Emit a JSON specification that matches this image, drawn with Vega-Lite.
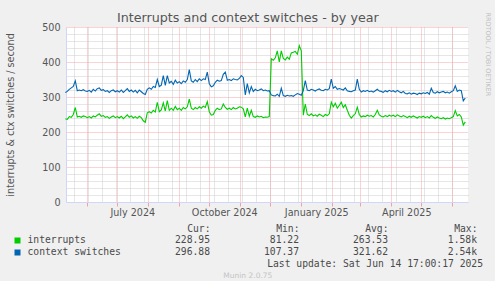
{
  "$schema": "https://vega.github.io/schema/vega-lite/v6.json",
  "background": "#F0F0F0",
  "padding": {"top": 12, "left": 5, "right": 5, "bottom": 1},
  "config": {
    "font": "DejaVu Sans",
    "view": {"stroke": null},
    "axis": {"labelColor": "#555555", "titleColor": "#555555", "labelFont": "DejaVu Sans", "titleFont": "DejaVu Sans", "labelFontSize": 9.6, "titleFontSize": 9.6, "titleFontWeight": "normal"},
    "title": {"color": "#555555", "fontWeight": "normal", "font": "DejaVu Sans"}
  },
  "datasets": {
    "ts": [
      {"t":"2024-05-10","i":238,"c":313},{"t":"2024-05-12","i":236,"c":316},{"t":"2024-05-14","i":244,"c":322},{"t":"2024-05-16","i":242,"c":326},{"t":"2024-05-18","i":250,"c":330},{"t":"2024-05-20","i":270,"c":346},{"t":"2024-05-22","i":243,"c":318},{"t":"2024-05-24","i":245,"c":320},{"t":"2024-05-26","i":242,"c":318},{"t":"2024-05-28","i":246,"c":321},{"t":"2024-05-30","i":244,"c":317},
      {"t":"2024-06-01","i":241,"c":316},{"t":"2024-06-03","i":244,"c":319},{"t":"2024-06-05","i":240,"c":314},{"t":"2024-06-07","i":246,"c":322},{"t":"2024-06-09","i":243,"c":317},{"t":"2024-06-11","i":248,"c":324},{"t":"2024-06-13","i":252,"c":326},{"t":"2024-06-15","i":245,"c":319},{"t":"2024-06-17","i":247,"c":321},{"t":"2024-06-19","i":242,"c":316},{"t":"2024-06-21","i":244,"c":318},{"t":"2024-06-23","i":239,"c":313},{"t":"2024-06-25","i":243,"c":318},{"t":"2024-06-27","i":246,"c":320},{"t":"2024-06-29","i":241,"c":315},
      {"t":"2024-07-01","i":244,"c":318},{"t":"2024-07-03","i":240,"c":314},{"t":"2024-07-05","i":245,"c":320},{"t":"2024-07-07","i":238,"c":313},{"t":"2024-07-09","i":243,"c":318},{"t":"2024-07-11","i":249,"c":324},{"t":"2024-07-13","i":242,"c":316},{"t":"2024-07-15","i":246,"c":320},{"t":"2024-07-17","i":240,"c":314},{"t":"2024-07-19","i":244,"c":319},{"t":"2024-07-21","i":239,"c":312},{"t":"2024-07-23","i":245,"c":320},{"t":"2024-07-25","i":241,"c":315},{"t":"2024-07-27","i":232,"c":310},{"t":"2024-07-29","i":228,"c":307},{"t":"2024-07-31","i":255,"c":322},
      {"t":"2024-08-02","i":258,"c":326},{"t":"2024-08-04","i":254,"c":322},{"t":"2024-08-06","i":262,"c":330},{"t":"2024-08-08","i":257,"c":327},{"t":"2024-08-10","i":285,"c":350},{"t":"2024-08-12","i":258,"c":330},{"t":"2024-08-14","i":263,"c":334},{"t":"2024-08-16","i":283,"c":361},{"t":"2024-08-18","i":260,"c":333},{"t":"2024-08-20","i":290,"c":361},{"t":"2024-08-22","i":262,"c":340},{"t":"2024-08-24","i":268,"c":345},{"t":"2024-08-26","i":262,"c":336},{"t":"2024-08-28","i":273,"c":348},{"t":"2024-08-30","i":264,"c":340},
      {"t":"2024-09-01","i":268,"c":344},{"t":"2024-09-03","i":262,"c":338},{"t":"2024-09-05","i":270,"c":346},{"t":"2024-09-07","i":266,"c":342},{"t":"2024-09-09","i":272,"c":350},{"t":"2024-09-11","i":294,"c":378},{"t":"2024-09-13","i":268,"c":346},{"t":"2024-09-15","i":264,"c":342},{"t":"2024-09-17","i":270,"c":350},{"t":"2024-09-19","i":266,"c":344},{"t":"2024-09-21","i":272,"c":352},{"t":"2024-09-23","i":268,"c":347},{"t":"2024-09-25","i":274,"c":352},{"t":"2024-09-27","i":270,"c":350},{"t":"2024-09-29","i":287,"c":371},
      {"t":"2024-10-01","i":258,"c":338},{"t":"2024-10-03","i":248,"c":329},{"t":"2024-10-05","i":250,"c":332},{"t":"2024-10-07","i":262,"c":342},{"t":"2024-10-09","i":268,"c":348},{"t":"2024-10-11","i":264,"c":345},{"t":"2024-10-13","i":266,"c":347},{"t":"2024-10-15","i":280,"c":365},{"t":"2024-10-17","i":270,"c":371},{"t":"2024-10-19","i":265,"c":348},{"t":"2024-10-21","i":268,"c":350},{"t":"2024-10-23","i":264,"c":347},{"t":"2024-10-25","i":270,"c":352},{"t":"2024-10-27","i":266,"c":350},{"t":"2024-10-29","i":268,"c":349},{"t":"2024-10-31","i":272,"c":353},
      {"t":"2024-11-02","i":271,"c":361},{"t":"2024-11-04","i":266,"c":356},{"t":"2024-11-06","i":243,"c":306},{"t":"2024-11-08","i":268,"c":338},{"t":"2024-11-10","i":245,"c":312},{"t":"2024-11-12","i":262,"c":330},{"t":"2024-11-14","i":244,"c":316},{"t":"2024-11-16","i":242,"c":322},{"t":"2024-11-18","i":246,"c":318},{"t":"2024-11-20","i":243,"c":320},{"t":"2024-11-22","i":245,"c":323},{"t":"2024-11-24","i":241,"c":318},{"t":"2024-11-26","i":243,"c":320},{"t":"2024-11-28","i":242,"c":317},{"t":"2024-11-30","i":244,"c":318},
      {"t":"2024-12-02","i":409,"c":306},{"t":"2024-12-04","i":405,"c":304},{"t":"2024-12-06","i":412,"c":303},{"t":"2024-12-08","i":432,"c":308},{"t":"2024-12-10","i":400,"c":302},{"t":"2024-12-12","i":432,"c":325},{"t":"2024-12-14","i":410,"c":304},{"t":"2024-12-16","i":406,"c":302},{"t":"2024-12-18","i":414,"c":305},{"t":"2024-12-20","i":408,"c":303},{"t":"2024-12-22","i":426,"c":304},{"t":"2024-12-24","i":428,"c":302},{"t":"2024-12-26","i":430,"c":306},{"t":"2024-12-28","i":422,"c":310},{"t":"2024-12-30","i":447,"c":308},
      {"t":"2025-01-01","i":432,"c":305},{"t":"2025-01-03","i":248,"c":318},{"t":"2025-01-05","i":280,"c":347},{"t":"2025-01-07","i":250,"c":320},{"t":"2025-01-09","i":247,"c":318},{"t":"2025-01-11","i":252,"c":322},{"t":"2025-01-13","i":246,"c":320},{"t":"2025-01-15","i":249,"c":317},{"t":"2025-01-17","i":245,"c":321},{"t":"2025-01-19","i":251,"c":323},{"t":"2025-01-21","i":248,"c":319},{"t":"2025-01-23","i":244,"c":318},{"t":"2025-01-25","i":250,"c":322},{"t":"2025-01-27","i":247,"c":320},{"t":"2025-01-29","i":252,"c":324},{"t":"2025-01-31","i":285,"c":351},
      {"t":"2025-02-02","i":272,"c":325},{"t":"2025-02-04","i":282,"c":330},{"t":"2025-02-06","i":268,"c":322},{"t":"2025-02-08","i":276,"c":324},{"t":"2025-02-10","i":285,"c":322},{"t":"2025-02-12","i":270,"c":320},{"t":"2025-02-14","i":278,"c":326},{"t":"2025-02-16","i":262,"c":318},{"t":"2025-02-18","i":248,"c":316},{"t":"2025-02-20","i":240,"c":315},{"t":"2025-02-22","i":247,"c":318},{"t":"2025-02-24","i":252,"c":320},{"t":"2025-02-26","i":271,"c":351},{"t":"2025-02-28","i":250,"c":322},
      {"t":"2025-03-02","i":243,"c":314},{"t":"2025-03-04","i":246,"c":318},{"t":"2025-03-06","i":244,"c":316},{"t":"2025-03-08","i":248,"c":319},{"t":"2025-03-10","i":245,"c":315},{"t":"2025-03-12","i":247,"c":317},{"t":"2025-03-14","i":243,"c":314},{"t":"2025-03-16","i":250,"c":318},{"t":"2025-03-18","i":262,"c":322},{"t":"2025-03-20","i":249,"c":317},{"t":"2025-03-22","i":245,"c":316},{"t":"2025-03-24","i":243,"c":313},{"t":"2025-03-26","i":247,"c":318},{"t":"2025-03-28","i":244,"c":315},{"t":"2025-03-30","i":248,"c":319},
      {"t":"2025-04-01","i":245,"c":316},{"t":"2025-04-03","i":248,"c":318},{"t":"2025-04-05","i":244,"c":314},{"t":"2025-04-07","i":249,"c":319},{"t":"2025-04-09","i":246,"c":315},{"t":"2025-04-11","i":243,"c":312},{"t":"2025-04-13","i":247,"c":316},{"t":"2025-04-15","i":244,"c":310},{"t":"2025-04-17","i":241,"c":309},{"t":"2025-04-19","i":245,"c":312},{"t":"2025-04-21","i":242,"c":308},{"t":"2025-04-23","i":246,"c":311},{"t":"2025-04-25","i":243,"c":310},{"t":"2025-04-27","i":240,"c":307},{"t":"2025-04-29","i":244,"c":311},
      {"t":"2025-05-01","i":242,"c":309},{"t":"2025-05-03","i":245,"c":312},{"t":"2025-05-05","i":241,"c":310},{"t":"2025-05-07","i":244,"c":313},{"t":"2025-05-09","i":240,"c":308},{"t":"2025-05-11","i":247,"c":325},{"t":"2025-05-13","i":242,"c":313},{"t":"2025-05-15","i":239,"c":311},{"t":"2025-05-17","i":243,"c":315},{"t":"2025-05-19","i":240,"c":312},{"t":"2025-05-21","i":238,"c":314},{"t":"2025-05-23","i":241,"c":316},{"t":"2025-05-25","i":237,"c":312},{"t":"2025-05-27","i":240,"c":314},{"t":"2025-05-29","i":238,"c":311},{"t":"2025-05-31","i":241,"c":315},
      {"t":"2025-06-02","i":244,"c":318},{"t":"2025-06-04","i":261,"c":332},{"t":"2025-06-06","i":246,"c":316},{"t":"2025-06-08","i":250,"c":320},{"t":"2025-06-10","i":243,"c":318},{"t":"2025-06-12","i":220,"c":289},{"t":"2025-06-14","i":229,"c":297}
    ],
    "stats": [
      {"series":"interrupts","stat":"Cur","value":"228.95"},
      {"series":"interrupts","stat":"Min","value":"81.22"},
      {"series":"interrupts","stat":"Avg","value":"263.53"},
      {"series":"interrupts","stat":"Max","value":"1.58k"},
      {"series":"context switches","stat":"Cur","value":"296.88"},
      {"series":"context switches","stat":"Min","value":"107.37"},
      {"series":"context switches","stat":"Avg","value":"321.62"},
      {"series":"context switches","stat":"Max","value":"2.54k"}
    ]
  },
  "title": {"text": "Munin 2.0.75", "orient": "bottom", "anchor": "middle", "frame": "bounds", "fontSize": 7.5, "color": "#C4C4C4", "offset": 3},
  "spacing": 6,
  "vconcat": [
    {
      "width": 402,
      "height": 175,
      "title": {"text": "Interrupts and context switches - by year", "fontSize": 12.7, "anchor": "middle", "frame": "bounds", "offset": -13, "color": "#555555"},
      "view": {"fill": "#FFFFFF", "stroke": null},
      "data": {"name": "ts"},
      "layer": [
        {
          "mark": {"type": "line", "color": "#00CC00", "strokeWidth": 1.1},
          "encoding": {
            "x": {"field": "t", "type": "temporal",
              "scale": {"type": "utc", "domain": [{"year": 2024, "month": 5, "date": 10, "hours": 17, "utc": true}, {"year": 2025, "month": 6, "date": 16, "hours": 17, "utc": true}]},
              "axis": {"orient": "bottom", "title": null, "labels": false, "ticks": false, "domain": false, "grid": true, "gridColor": "#CCCCCC", "gridDash": [1, 1], "zindex": 0,
                "values": [
                  {"year": 2024, "month": 5, "date": 19, "utc": true}, {"year": 2024, "month": 6, "date": 2, "utc": true}, {"year": 2024, "month": 6, "date": 16, "utc": true}, {"year": 2024, "month": 6, "date": 30, "utc": true},
                  {"year": 2024, "month": 7, "date": 14, "utc": true}, {"year": 2024, "month": 7, "date": 28, "utc": true}, {"year": 2024, "month": 8, "date": 11, "utc": true}, {"year": 2024, "month": 8, "date": 25, "utc": true},
                  {"year": 2024, "month": 9, "date": 8, "utc": true}, {"year": 2024, "month": 9, "date": 22, "utc": true}, {"year": 2024, "month": 10, "date": 6, "utc": true}, {"year": 2024, "month": 10, "date": 20, "utc": true},
                  {"year": 2024, "month": 11, "date": 3, "utc": true}, {"year": 2024, "month": 11, "date": 17, "utc": true}, {"year": 2024, "month": 12, "date": 1, "utc": true}, {"year": 2024, "month": 12, "date": 15, "utc": true},
                  {"year": 2024, "month": 12, "date": 29, "utc": true}, {"year": 2025, "month": 1, "date": 12, "utc": true}, {"year": 2025, "month": 1, "date": 26, "utc": true}, {"year": 2025, "month": 2, "date": 9, "utc": true},
                  {"year": 2025, "month": 2, "date": 23, "utc": true}, {"year": 2025, "month": 3, "date": 9, "utc": true}, {"year": 2025, "month": 3, "date": 23, "utc": true}, {"year": 2025, "month": 4, "date": 6, "utc": true},
                  {"year": 2025, "month": 4, "date": 20, "utc": true}, {"year": 2025, "month": 5, "date": 4, "utc": true}, {"year": 2025, "month": 5, "date": 18, "utc": true}, {"year": 2025, "month": 6, "date": 1, "utc": true}
                ]}},
            "y": {"field": "i", "type": "quantitative",
              "scale": {"domain": [0, 500], "nice": false},
              "axis": {"orient": "right", "labels": false, "ticks": false, "domain": false, "grid": true, "gridColor": "#CCCCCC", "gridDash": [1, 1], "zindex": 0,
                "values": [20, 40, 60, 80, 120, 140, 160, 180, 220, 240, 260, 280, 320, 340, 360, 380, 420, 440, 460, 480],
                "title": "RRDTOOL / TOBI OETIKER", "titleFontSize": 6.5, "titleColor": "#C0C0C0", "titleAngle": 90, "titleAlign": "left", "titleBaseline": "middle", "titleX": 19, "titleY": -15}}
          }
        },
        {
          "mark": {"type": "line", "color": "#0066B3", "strokeWidth": 1.1},
          "encoding": {
            "x": {"field": "t", "type": "temporal",
              "scale": {"type": "utc", "domain": [{"year": 2024, "month": 5, "date": 10, "hours": 17, "utc": true}, {"year": 2025, "month": 6, "date": 16, "hours": 17, "utc": true}]},
              "axis": {"orient": "bottom", "title": null, "grid": true, "gridColor": "#F4A8A8", "gridDash": [1, 1], "zindex": 0,
                "domain": true, "domainColor": "#CFD6F8", "ticks": true, "tickColor": "#F4A0A0", "tickSize": 4, "labelPadding": 1,
                "labelOffset": 15, "labelOverlap": false, "labelFlush": false, "labelAngle": 0,
                "labelExpr": "utcmonth(datum.value) % 3 == 0 ? utcFormat(datum.value, '%B %Y') : ''",
                "values": [
                  {"year": 2024, "month": 6, "date": 1, "utc": true}, {"year": 2024, "month": 7, "date": 1, "utc": true}, {"year": 2024, "month": 8, "date": 1, "utc": true}, {"year": 2024, "month": 9, "date": 1, "utc": true},
                  {"year": 2024, "month": 10, "date": 1, "utc": true}, {"year": 2024, "month": 11, "date": 1, "utc": true}, {"year": 2024, "month": 12, "date": 1, "utc": true}, {"year": 2025, "month": 1, "date": 1, "utc": true},
                  {"year": 2025, "month": 2, "date": 1, "utc": true}, {"year": 2025, "month": 3, "date": 1, "utc": true}, {"year": 2025, "month": 4, "date": 1, "utc": true}, {"year": 2025, "month": 5, "date": 1, "utc": true},
                  {"year": 2025, "month": 6, "date": 1, "utc": true}
                ]}},
            "y": {"field": "c", "type": "quantitative",
              "scale": {"domain": [0, 500], "nice": false},
              "axis": {"orient": "left", "title": "interrupts & ctx switches / second", "titlePadding": 26, "values": [0, 100, 200, 300, 400, 500],
                "grid": true, "gridColor": "#F4A8A8", "gridDash": [1, 1], "gridOpacity": {"condition": {"test": "datum.value === 0", "value": 0}, "value": 1}, "zindex": 0,
                "ticks": false, "labelPadding": 6, "domain": true, "domainColor": "#CFD6F8"}}
          }
        }
      ],
      "resolve": {"scale": {"x": "independent", "y": "independent"}, "axis": {"x": "independent", "y": "independent"}}
    },
    {
      "width": 417,
      "height": 23.4,
      "data": {"name": "stats"},
      "title": {"text": "Last update: Sat Jun 14 17:00:17 2025", "orient": "bottom", "anchor": "end", "frame": "group", "font": "DejaVu Sans Mono", "fontSize": 9.7, "color": "#4A4A4A", "offset": 2},
      "mark": {"type": "text", "align": "right", "baseline": "middle", "font": "DejaVu Sans Mono", "fontSize": 9.7, "color": "#4A4A4A"},
      "encoding": {
        "x": {"field": "stat", "type": "nominal", "sort": ["Cur", "Min", "Avg", "Max"],
          "scale": {"type": "point", "padding": 0.843, "align": 0.96},
          "axis": {"orient": "top", "title": null, "ticks": false, "domain": false, "grid": false, "labelExpr": "datum.value + ':'", "labelAlign": "right", "labelFont": "DejaVu Sans Mono", "labelFontSize": 9.7, "labelPadding": 1, "labelColor": "#4A4A4A", "labelAngle": 0, "labelOverlap": false, "labelDx": -7}},
        "y": {"field": "series", "type": "nominal", "sort": ["interrupts", "context switches"],
          "scale": {"type": "point", "padding": 0.5},
          "axis": {"orient": "left", "title": null, "offset": 46, "domain": false, "grid": false, "tickSize": 6, "tickWidth": 6,
            "tickColor": {"condition": {"test": "datum.value === 'interrupts'", "value": "#00CC00"}, "value": "#0066B3"},
            "labelAlign": "left", "labelPadding": -13, "labelFont": "DejaVu Sans Mono", "labelFontSize": 9.7, "labelColor": "#4A4A4A", "labelBaseline": "middle"}},
        "text": {"field": "value"}
      }
    }
  ]
}
